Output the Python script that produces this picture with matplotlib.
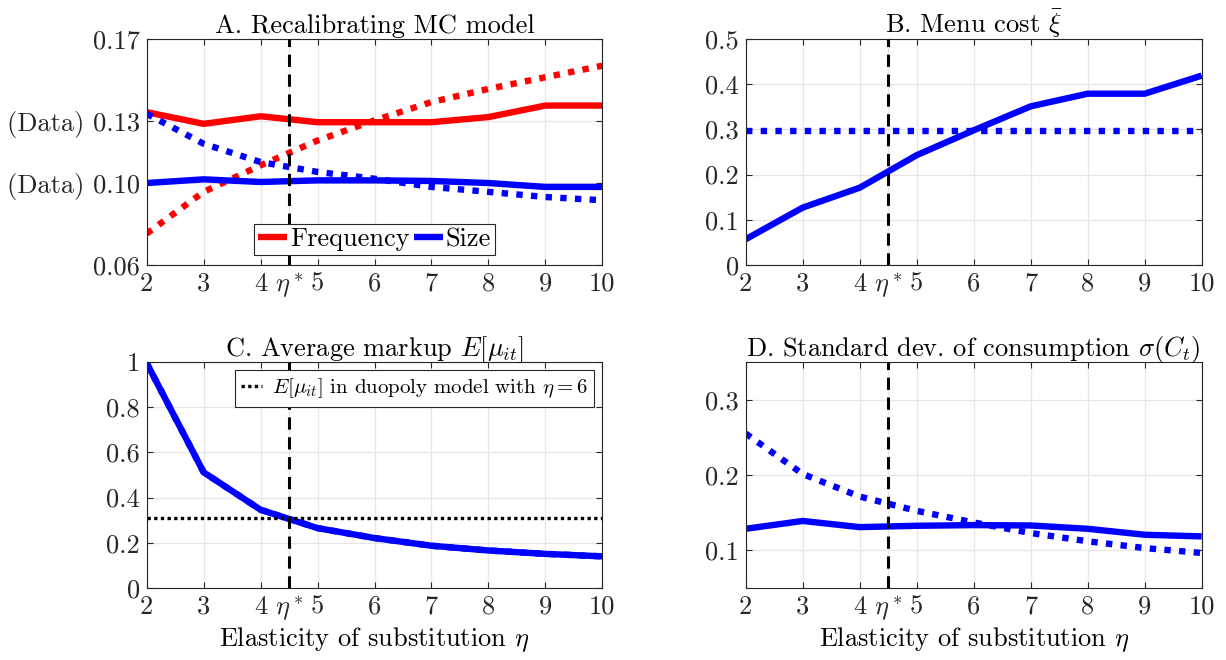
import matplotlib
matplotlib.use("Agg")
import matplotlib.pyplot as plt

plt.rcParams['font.family'] = 'serif'
plt.rcParams['font.serif'] = ['cmr10']
plt.rcParams['mathtext.fontset'] = 'cm'
plt.rcParams['axes.formatter.use_mathtext'] = True

eta = [2, 3, 4, 5, 6, 7, 8, 9, 10]
eta_star = 4.5

# A. Recalibrating MC model
freq_recal = [0.1344, 0.1287, 0.1324, 0.1295, 0.1295, 0.1295, 0.1320, 0.1376, 0.1376]
freq_fixed = [0.0753, 0.0956, 0.1085, 0.1206, 0.1304, 0.1393, 0.1457, 0.1514, 0.1570]
size_recal = [0.0999, 0.1017, 0.1004, 0.1012, 0.1012, 0.1009, 0.0999, 0.0980, 0.0980]
size_fixed = [0.1336, 0.1190, 0.1101, 0.1053, 0.1020, 0.0980, 0.0956, 0.0931, 0.0915]

# B. Menu cost
menu_recal = [0.057, 0.127, 0.171, 0.243, 0.298, 0.351, 0.379, 0.379, 0.419]
menu_fixed = [0.296] * len(eta)

# C. Average markup
markup = [0.995, 0.512, 0.346, 0.265, 0.221, 0.187, 0.166, 0.151, 0.140]
markup_duopoly = 0.309

# D. Std dev of consumption
sdc_recal = [0.1286, 0.1390, 0.1308, 0.1326, 0.1335, 0.1330, 0.1286, 0.1207, 0.1185]
sdc_fixed = [0.2550, 0.2013, 0.1714, 0.1524, 0.1370, 0.1230, 0.1120, 0.1030, 0.0965]

xticks = [2, 3, 4, 4.5, 5, 6, 7, 8, 9, 10]
xticklabels = ['2', '3', '4', r'$\eta^*$', '5', '6', '7', '8', '9', '10']

LW = 4.6
DOTS = (1, 1.3)
FS = 19      # tick labels
FS_T = 19    # titles and axis labels

fig = plt.figure(figsize=(12.26, 6.6), dpi=100)
W, H = 1226, 660

def make_ax(left, top, right, bottom):
    return fig.add_axes([left / W, 1 - bottom / H, (right - left) / W, (bottom - top) / H])

axA = make_ax(146.7, 39, 602.3, 265)
axB = make_ax(745.7, 39, 1201.7, 265)
axC = make_ax(146.7, 362, 602.3, 588)
axD = make_ax(745.7, 362, 1201.7, 588)

def style(ax):
    ax.set_xlim(2, 10)
    ax.set_xticks(xticks)
    ax.set_xticklabels(xticklabels)
    ax.grid(True, color='#e6e6e6', linewidth=0.9)
    ax.set_axisbelow(True)
    ax.tick_params(direction='in', top=True, right=True, length=4, width=0.8,
                   labelsize=FS, colors='#262626', pad=5)
    for s in ax.spines.values():
        s.set_color('#262626')
        s.set_linewidth(0.8)
    ax.axvline(eta_star, color='k', linestyle=(0, (4, 2.5)), linewidth=2.2, zorder=5)

# Panel A
ax = axA
l1, = ax.plot(eta, freq_recal, color='#ff0000', lw=LW, solid_capstyle='butt')
ax.plot(eta, freq_fixed, color='#ff0000', lw=LW, linestyle=(0, DOTS), dash_capstyle='butt')
l2, = ax.plot(eta, size_recal, color='#0000ff', lw=LW, solid_capstyle='butt')
ax.plot(eta, size_fixed, color='#0000ff', lw=LW, linestyle=(0, DOTS), dash_capstyle='butt')
ax.set_ylim(0.06, 0.17)
ax.set_yticks([0.06, 0.10, 0.13, 0.17])
ax.set_yticklabels(['0.06', '(Data) 0.10', '(Data) 0.13', '0.17'])
style(ax)
ax.set_title('A. Recalibrating MC model', fontsize=FS_T, pad=4)
leg = ax.legend([l1, l2], ['Frequency', 'Size'], ncol=2, loc='lower center',
                bbox_to_anchor=(0.5, 0.02), fontsize=FS, handlelength=1.1,
                handletextpad=0.1, columnspacing=0.15, borderpad=0.15,
                borderaxespad=0.2, fancybox=False, framealpha=1)
leg.get_frame().set_edgecolor('#262626')
leg.get_frame().set_linewidth(0.8)

# Panel B
ax = axB
ax.plot(eta, menu_recal, color='#0000ff', lw=LW, solid_capstyle='butt')
ax.plot(eta, menu_fixed, color='#0000ff', lw=LW, linestyle=(0, DOTS), dash_capstyle='butt')
ax.set_ylim(0, 0.5)
ax.set_yticks([0, 0.1, 0.2, 0.3, 0.4, 0.5])
ax.set_yticklabels(['0', '0.1', '0.2', '0.3', '0.4', '0.5'])
style(ax)
ax.set_title(r'B. Menu cost $\bar{\xi}$', fontsize=FS_T, pad=4)

# Panel C
ax = axC
ax.plot(eta, markup, color='#0000ff', lw=LW, solid_capstyle='butt')
ax.plot(eta, markup, color='#0000ff', lw=LW, linestyle=(0, DOTS), dash_capstyle='butt')
ld = ax.axhline(markup_duopoly, color='k', lw=2.4, linestyle=(0, (1, 1)))
ax.set_ylim(0, 1)
ax.set_yticks([0, 0.2, 0.4, 0.6, 0.8, 1])
ax.set_yticklabels(['0', '0.2', '0.4', '0.6', '0.8', '1'])
style(ax)
ax.set_title(r'C. Average markup $E[\mu_{it}]$', fontsize=FS_T, pad=4)
ax.set_xlabel(r'Elasticity of substitution $\eta$', fontsize=FS_T, labelpad=1)
leg = ax.legend([ld], [r'$E[\mu_{it}]$ in duopoly model with $\eta=6$'], loc='upper right',
                fontsize=15, handlelength=1.0, handletextpad=0.5, borderpad=0.3,
                borderaxespad=0.4, fancybox=False, framealpha=1)
leg.get_frame().set_edgecolor('#262626')
leg.get_frame().set_linewidth(0.8)

# Panel D
ax = axD
ax.plot(eta, sdc_recal, color='#0000ff', lw=LW, solid_capstyle='butt')
ax.plot(eta, sdc_fixed, color='#0000ff', lw=LW, linestyle=(0, DOTS), dash_capstyle='butt')
ax.set_ylim(0.05, 0.35)
ax.set_yticks([0.1, 0.2, 0.3])
ax.set_yticklabels(['0.1', '0.2', '0.3'])
style(ax)
ax.set_title(r'D. Standard dev. of consumption $\sigma(C_t)$', fontsize=FS_T, pad=4)
ax.set_xlabel(r'Elasticity of substitution $\eta$', fontsize=FS_T, labelpad=1)

fig.savefig('out.png', dpi=100)
